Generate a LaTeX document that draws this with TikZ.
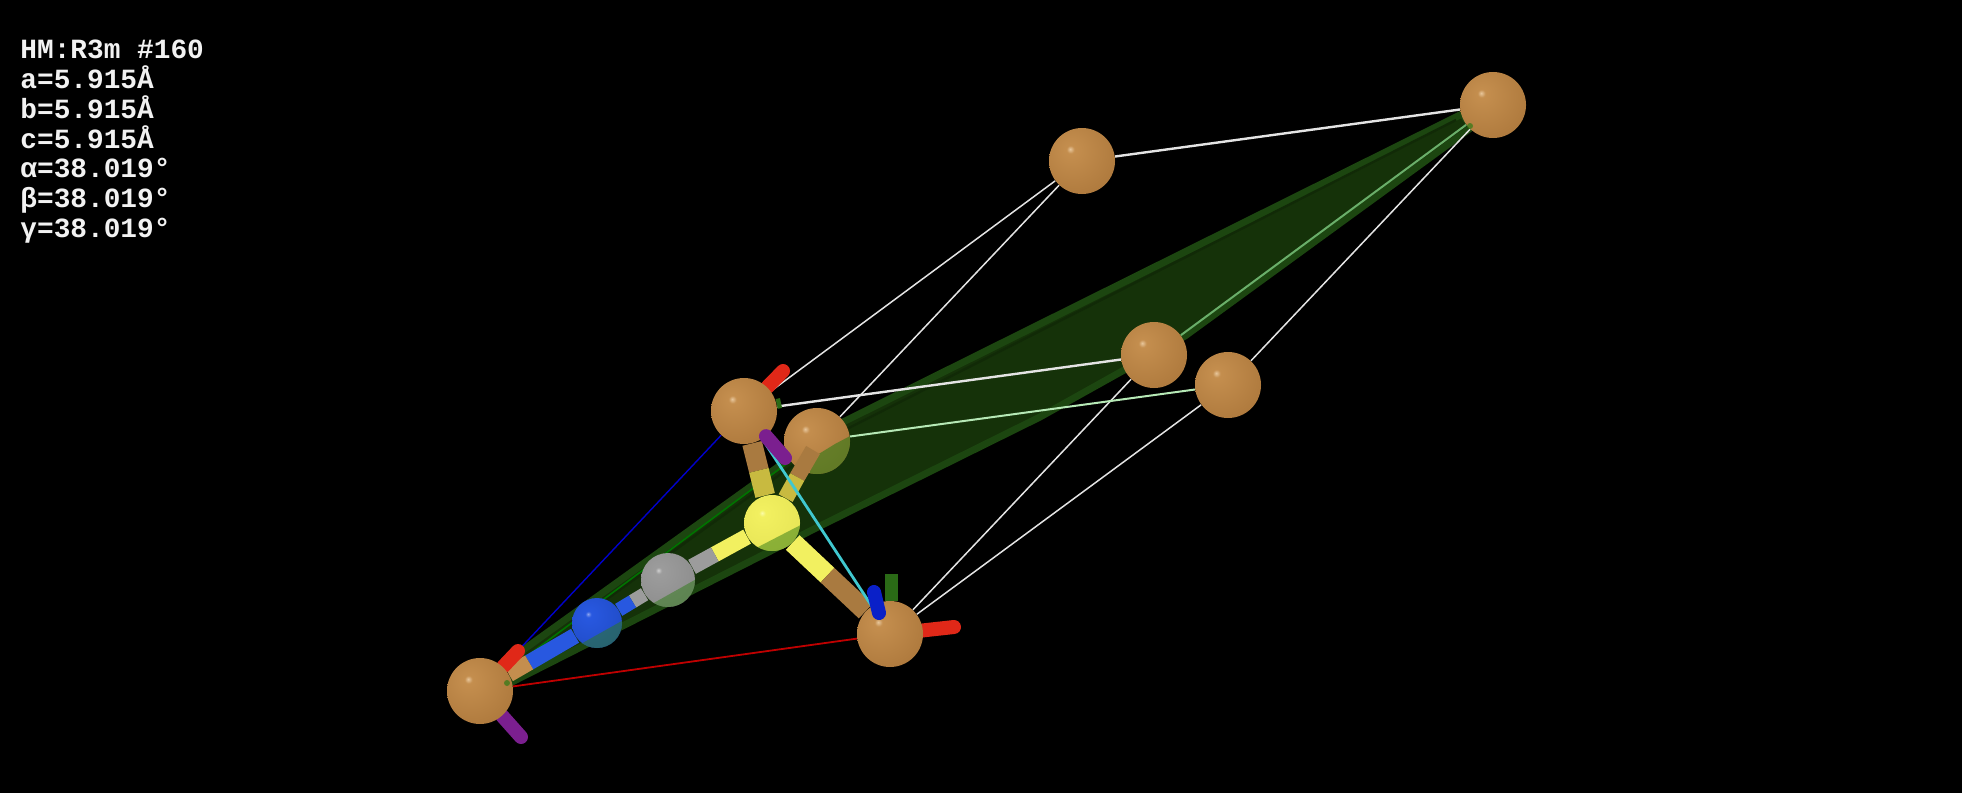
\documentclass[tikz,border=0pt]{standalone}
\usepackage{fontspec}
\newfontfamily\hudfont{Liberation Mono}[BoldFont={Liberation Mono Bold}]
\usetikzlibrary{calc}
\definecolor{cuhi}{HTML}{E8C79C}
\definecolor{cumid}{HTML}{C48E4E}
\definecolor{cuedge}{HTML}{A06C32}
\definecolor{cubond}{HTML}{A97A40}
\definecolor{shi}{HTML}{FBFBA8}
\definecolor{smid}{HTML}{F2F060}
\definecolor{sedge}{HTML}{E0DE50}
\definecolor{solive}{HTML}{C8BA40}
\definecolor{chi}{HTML}{D0D0D0}
\definecolor{cmid}{HTML}{9C9C9C}
\definecolor{cedge}{HTML}{848484}
\definecolor{nhi}{HTML}{8CA4F0}
\definecolor{nmid}{HTML}{2858E0}
\definecolor{nedge}{HTML}{1C44B8}
\definecolor{planefill}{HTML}{153209}
\definecolor{planeband}{HTML}{1C4610}
\definecolor{planeline}{HTML}{112A07}
\definecolor{celledge}{HTML}{E4E4E4}
\definecolor{tintgreen}{HTML}{2E7A16}
\definecolor{axisred}{HTML}{E02818}
\definecolor{axispurple}{HTML}{7B1F8F}
\definecolor{axisblue}{HTML}{0A20C8}
\definecolor{axisgreen}{HTML}{2A6A16}
\definecolor{axiscyan}{HTML}{40C8D0}
\pgfdeclareradialshading{cushade}{\pgfpoint{-9bp}{9bp}}{color(0bp)=(cuhi); color(3bp)=(cumid); color(55bp)=(cuedge); color(100bp)=(cuedge)}
\pgfdeclareradialshading{sshade}{\pgfpoint{-9bp}{9bp}}{color(0bp)=(shi); color(3bp)=(smid); color(55bp)=(sedge); color(100bp)=(sedge)}
\pgfdeclareradialshading{cshade}{\pgfpoint{-9bp}{9bp}}{color(0bp)=(chi); color(3bp)=(cmid); color(55bp)=(cedge); color(100bp)=(cedge)}
\pgfdeclareradialshading{nshade}{\pgfpoint{-9bp}{9bp}}{color(0bp)=(nhi); color(3bp)=(nmid); color(55bp)=(nedge); color(100bp)=(nedge)}
\pgfdeclarelayer{planelayer}
\pgfdeclarelayer{farlayer}
\pgfdeclarelayer{bondlayer}
\pgfdeclarelayer{frontlayer}
\pgfsetlayers{planelayer,farlayer,bondlayer,main,frontlayer}
\begin{document}
\begin{tikzpicture}[x=0.5pt,y=-0.5pt,
    atom/.style={circle,inner sep=0pt,minimum size=#1*1pt},
    cuatom/.style={atom=33,shading=cushade},
    cellline/.style={color=celledge,line width=0.75pt},
    cellfront/.style={color=celledge,line width=1.2pt},
    stub/.style={line width=7pt,line cap=round},
    tint/.style={color=tintgreen,opacity=0.5}]
    \begin{pgfonlayer}{farlayer}
        \foreach \name/\px/\py in {cuC/817/441,cuE/1082/161,cuF/1493/105,cuG/1154/355,cuH/1228/385}
            \node[cuatom] (\name) at (\px,\py) {};
        \begin{scope}
            \clip (810,468) -- (817,455) -- (835,444) -- (852,435) -- (870,480) -- (810,490) -- cycle;
            \fill[tint,opacity=0.6] (cuC) circle (33);
        \end{scope}
    \end{pgfonlayer}
    \node[cuatom] (cuA) at (480,691) {};
    \node[cuatom] (cuB) at (744,411) {};
    \node[cuatom] (cuD) at (890,634) {};
    \node[atom=28,shading=sshade] (sS) at (772,523) {};
    \node[atom=27,shading=cshade] (cC) at (668,580) {};
    \node[atom=25,shading=nshade] (nN) at (597,623) {};
    \begin{pgfonlayer}{planelayer}
        \path[use as bounding box] (0,0) rectangle (1962,792);
        \fill[black] (-10,-10) rectangle (1972,802);
        \draw[fill=planefill,draw=planeband,line width=3.5pt,line join=round]
            (510,683) -- (523,650) -- (835,426) -- (1462,114) -- (1472,127)
            -- (1185,336) -- (1040,417) -- (820,526) -- cycle;
        \draw[color=planeline,line width=1.2pt] (600,604) -- (835,435) -- (1456,120);
        \draw[color=green!45!black,line width=0.8pt] (cuA) -- (cuC);
        \draw[color=green!30!gray!90!white,line width=1pt] (cuG) -- (cuF);
        \foreach \a/\b in {cuF/cuH,cuE/cuB,cuE/cuC,cuG/cuD,cuH/cuD}
            \draw[cellline] (\a) -- (\b);
        \foreach \a/\b in {cuF/cuE,cuG/cuB}
            \draw[cellfront] (\a) -- (\b);
        \draw[cellline,line width=1pt,color=celledge!80!green] (cuH) -- (cuC);
        \draw[color=red!75!black,line width=0.9pt] (cuA) -- (cuD);
        \draw[color=blue!80!black,line width=0.7pt] (cuA) -- (cuB);
    \end{pgfonlayer}
    \begin{pgfonlayer}{bondlayer}
        % half bonds, one colour each side
        \coordinate (cStart) at (813,450);
        \coordinate (jB) at ($(cuB)!0.53!(sS)$);
        \coordinate (jC) at ($(cuC)!0.44!(sS)$);
        \coordinate (jD) at ($(sS)!0.47!(cuD)$);
        \coordinate (jS) at ($(sS)!0.55!(cC)$);
        \coordinate (jN) at ($(cC)!0.50!(nN)$);
        \coordinate (jA) at ($(nN)!0.58!(cuA)$);
        \draw[line width=10pt,color=cubond] (cuB) -- (jB);
        \draw[line width=10pt,color=solive] (jB) -- (sS);
        \draw[line width=8pt,color=cubond] (cStart) -- (jC);
        \draw[line width=8pt,color=solive] (jC) -- (sS);
        \draw[line width=10pt,color=smid] (sS) -- (jD);
        \draw[line width=10pt,color=cubond] (jD) -- (cuD);
        \draw[line width=8pt,color=smid] (sS) -- (jS);
        \draw[line width=8pt,color=cmid] (jS) -- (cC);
        \draw[line width=7pt,color=cmid] (cC) -- (jN);
        \draw[line width=7pt,color=nmid] (jN) -- (nN);
        \draw[line width=8pt,color=nmid] (nN) -- (jA);
        \draw[line width=8pt,color=cumid] (jA) -- (cuA);
        % short axes behind the balls
        \coordinate (redA) at (518,651);
        \coordinate (redB) at (783,371);
        \coordinate (redD) at (954,627);
        \coordinate (greenB) at (781,403);
        \coordinate (greenD) at (891,574);
        \coordinate (purpleA) at (521,737);
        \draw[stub,color=axisred] (cuA) -- (redA);
        \draw[stub,color=axisred] (cuB) -- (redB);
        \draw[stub,color=axisred] (cuD) -- (redD);
        \draw[stub,line cap=butt,line width=5pt,color=axisgreen] (cuB) -- (greenB);
        \draw[stub,line cap=butt,line width=6.5pt,color=axisgreen] (greenD) -- (greenD |- cuD.north);
        \draw[stub,color=axispurple] (cuA) -- (purpleA);
    \end{pgfonlayer}
    \begin{pgfonlayer}{frontlayer}
        \draw[color=axiscyan,line width=1.4pt] (cuD) -- (cuB);
        \coordinate (purpleB) at (785,458);
        \coordinate (blueD) at (874,592);
        \coordinate (blueDin) at (879,613);
        \draw[stub,color=axispurple] (cuB) -- (purpleB);
        \draw[stub,color=axisblue] (blueDin) -- (blueD);
        % part of the balls that lies in front of the plane
        \begin{scope}
            \clip (490,695) -- (700,577) -- (820,515) -- (840,560) -- (500,740) -- cycle;
            \foreach \name/\rad in {sS/28,cC/27,nN/25}
                \fill[tint] (\name) circle (\rad);
        \end{scope}
        \coordinate (tipA) at (507,683);
        \coordinate (tipF) at (1470,126);
        \fill[color=tintgreen,opacity=0.7] (tipA) circle (3);
        \fill[color=tintgreen,opacity=0.7] (tipF) circle (3);
    \end{pgfonlayer}
    \node[anchor=north west,inner sep=0pt,align=left,text=white!95!black,
        font={\hudfont\bfseries\fontsize{13.9}{14.85}\selectfont}] (info) at (20,40)
        {HM:R3m \#160\\a=5.915Å\\b=5.915Å\\c=5.915Å\\α=38.019°\\β=38.019°\\γ=38.019°};
\end{tikzpicture}
\end{document}
